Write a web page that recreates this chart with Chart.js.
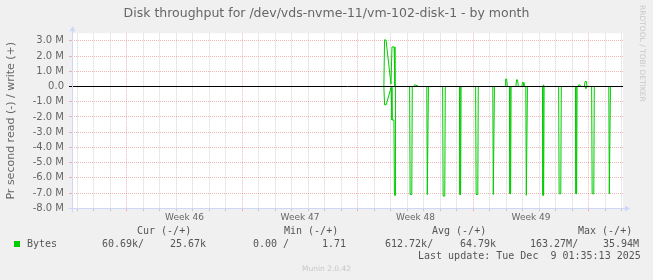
<!DOCTYPE html>
<html>
<head>
<meta charset="utf-8">
<script src="https://cdn.jsdelivr.net/npm/chart.js@4.4.1/dist/chart.umd.min.js"></script>
<style>
	body { margin: 0; background: #f0f0f0; }
	#wrap { position: relative; width: 653px; height: 280px; overflow: hidden; font-family: "DejaVu Sans", sans-serif; color: #666; }
	#wrap canvas { position: absolute; left: 0; top: 0; }
	.t { position: absolute; white-space: pre; line-height: 1; }
	.mono { font-family: "DejaVu Sans Mono", monospace; font-size: 10px; color: #555; }
</style>
</head>
<body>
<div id="wrap">
	<canvas id="myChart" width="653" height="280"></canvas>
	<div class="t" style="left:0;width:653px;text-align:center;top:7px;font-size:12.5px;">Disk throughput for /dev/vds-nvme-11/vm-102-disk-1 - by month</div>
	<div class="t" style="left:638px;top:5px;font-size:7.5px;color:#c8c8c8;writing-mode:vertical-rl;">RRDTOOL / TOBI OETIKER</div>

	<div class="t mono" style="left:137px;top:226px;">Cur (-/+)</div>
	<div class="t mono" style="left:284px;top:226px;">Min (-/+)</div>
	<div class="t mono" style="left:432px;top:226px;">Avg (-/+)</div>
	<div class="t mono" style="left:578px;top:226px;">Max (-/+)</div>

	<div style="position:absolute;left:14px;top:241px;width:6px;height:6px;background:#00cc00;"></div>
	<div class="t mono" style="left:27px;top:239px;">Bytes</div>
	<div class="t mono" style="left:102px;top:239px;">60.69k/</div>
	<div class="t mono" style="left:170px;top:239px;">25.67k</div>
	<div class="t mono" style="left:253px;top:239px;">0.00 /</div>
	<div class="t mono" style="left:322px;top:239px;">1.71</div>
	<div class="t mono" style="left:385px;top:239px;">612.72k/</div>
	<div class="t mono" style="left:460px;top:239px;">64.79k</div>
	<div class="t mono" style="left:530px;top:239px;">163.27M/</div>
	<div class="t mono" style="left:603px;top:239px;">35.94M</div>

	<div class="t mono" style="left:418px;top:251px;">Last update: Tue Dec  9 01:35:13 2025</div>
	<div class="t" style="left:0;width:653px;text-align:center;top:265px;font-size:7.5px;color:#c8c8c8;">Munin 2.0.42</div>
</div>
<script>
// x values are days counted from the start of week 46, y values in M (10^6) per second
var weekLabels = ["Week 46", "Week 47", "Week 48", "Week 49"];

var writeDays = [15.58, 15.62, 15.71, 16.01, 16.07, 16.20, 16.25,
	17.39, 17.43, 17.53, 17.58,
	22.92, 22.96, 23.02, 23.06,
	23.58, 23.62, 23.68, 23.73,
	23.94, 23.98, 24.03, 24.07,
	25.22, 25.25, 25.30,
	27.34, 27.38, 27.46, 27.50,
	27.73, 27.77, 27.85, 27.89,
	30.03];
var writeM = [0, 3.07, 3.05, 0.15, 2.6, 2.6, 0,
	0, 0.1, 0.1, 0,
	0, 0.49, 0.49, 0,
	0, 0.44, 0.44, 0,
	0, 0.26, 0.26, 0,
	0, 0.11, 0,
	0, 0.1, 0.1, 0,
	0, 0.33, 0.33, 0,
	0];

var readDays = [15.58, 15.62, 15.72, 16.02, 16.07, 16.19, 16.22, 16.26, 16.28,
	17.14, 17.17, 17.27, 17.30,
	18.18, 18.21, 18.25, 18.28,
	19.14, 19.17, 19.27, 19.30,
	20.16, 20.19, 20.23, 20.26,
	21.14, 21.17, 21.27, 21.30,
	22.18, 22.21, 22.25, 22.28,
	23.19, 23.22, 23.26, 23.29,
	24.18, 24.21, 24.25, 24.28,
	25.19, 25.22, 25.26, 25.29,
	26.17, 26.20, 26.30, 26.33,
	27.19, 27.22, 27.26, 27.29,
	27.78, 27.82, 27.86,
	28.17, 28.20, 28.30, 28.33,
	29.21, 29.24, 29.28, 29.31,
	30.03];
var readM = [0, -1.2, -1.2, -0.05, -2.2, -2.2, -7.15, -7.15, 0,
	0, -7.1, -7.1, 0,
	0, -7.1, -7.1, 0,
	0, -7.2, -7.2, 0,
	0, -7.1, -7.1, 0,
	0, -7.1, -7.1, 0,
	0, -7.1, -7.1, 0,
	0, -7.05, -7.05, 0,
	0, -7.15, -7.15, 0,
	0, -7.15, -7.15, 0,
	0, -7.05, -7.05, 0,
	0, -7.05, -7.05, 0,
	0, -0.13, 0,
	0, -7.05, -7.05, 0,
	0, -7.05, -7.05, 0,
	0];

var xMin = -3.32, xMax = 30.07;
var yMin = -8, yMax = 3.5;

var MINOR = "rgba(128,128,128,0.35)";
var MAJOR = "rgba(226,93,93,0.45)";
var AXIS = "#cfd6f8";
var NONE = "rgba(0,0,0,0)";

function toPoints(xs, ys) {
	return xs.map(function (x, i) {
		return { x: x, y: ys[i] };
	});
}
function isWhole(v) {
	return Math.abs(v - Math.round(v)) < 1e-6;
}
function weekIndex(v) {
	for (var i = 0; i < weekLabels.length; i++) {
		if (Math.abs(v - (3.5 + 7 * i)) < 1e-6) return i;
	}
	return -1;
}
function xGridColor(ctx) {
	if (!ctx.tick) return NONE;
	var v = ctx.tick.value;
	if (!isWhole(v)) return NONE;
	return Math.round(v) % 7 === 0 ? MAJOR : MINOR;
}
function yGridColor(ctx) {
	if (!ctx.tick) return NONE;
	var v = ctx.tick.value;
	if (Math.abs(v) < 1e-6 || Math.abs(v - yMin) < 1e-6) return NONE;
	return isWhole(v) ? MAJOR : MINOR;
}

var canvasBack = {
	id: "canvasBack",
	beforeDraw: function (chart) {
		var a = chart.chartArea, c = chart.ctx;
		c.save();
		c.fillStyle = "#ffffff";
		c.fillRect(a.left, a.top, a.right - a.left, a.bottom - a.top);
		c.restore();
	},
	afterDraw: function (chart) {
		var a = chart.chartArea, c = chart.ctx;
		var l = Math.round(a.left) + 0.5, b = Math.round(a.bottom) + 0.5;
		c.save();
		c.strokeStyle = AXIS;
		c.fillStyle = AXIS;
		c.lineWidth = 1;
		c.beginPath();
		c.moveTo(l, b + 4);
		c.lineTo(l, a.top - 3);
		c.moveTo(l - 4, b);
		c.lineTo(a.right + 4, b);
		c.stroke();
		c.beginPath();
		c.moveTo(l - 3, a.top - 2);
		c.lineTo(l + 3, a.top - 2);
		c.lineTo(l, a.top - 7);
		c.closePath();
		c.fill();
		c.beginPath();
		c.moveTo(a.right + 2, b - 3);
		c.lineTo(a.right + 2, b + 3);
		c.lineTo(a.right + 7, b);
		c.closePath();
		c.fill();
		c.restore();
	},
};

Chart.defaults.font.family = "'DejaVu Sans', sans-serif";
Chart.defaults.font.size = 10;
Chart.defaults.color = "#666";

var ctx = document.getElementById("myChart").getContext("2d");
var myChart = new Chart(ctx, {
	type: "line",
	data: {
		datasets: [
			{
				label: "zero",
				data: [{ x: xMin, y: 0 }, { x: xMax, y: 0 }],
				borderColor: "#000000",
				borderWidth: 1,
			},
			{
				label: "write",
				data: toPoints(writeDays, writeM),
				borderColor: "#00cc00",
				borderWidth: 1,
			},
			{
				label: "read",
				data: toPoints(readDays, readM),
				borderColor: "#00cc00",
				borderWidth: 1,
			},
		],
	},
	options: {
		responsive: false,
		animation: false,
		events: [],
		layout: { padding: { left: 0, right: 30, top: 33.24, bottom: 0 } },
		elements: { point: { radius: 0 }, line: { tension: 0 } },
		plugins: {
			legend: { display: false },
			tooltip: { enabled: false },
		},
		scales: {
			x: {
				type: "linear",
				min: xMin,
				max: xMax,
				afterBuildTicks: function (scale) {
					var t = [];
					for (var d = Math.ceil(xMin); d <= Math.floor(xMax); d++) t.push(d);
					weekLabels.forEach(function (w, i) {
						t.push(3.5 + 7 * i);
					});
					t.sort(function (a, b) { return a - b; });
					scale.ticks = t.map(function (v) { return { value: v }; });
				},
				afterFit: function (scale) {
					scale.height = 280 - 208.24;
				},
				ticks: {
					autoSkip: false,
					maxRotation: 0,
					minRotation: 0,
					padding: 1,
					font: { size: 9 },
					callback: function (value) {
						var i = weekIndex(value);
						return i >= 0 ? weekLabels[i] : "";
					},
				},
				grid: {
					color: xGridColor,
					tickColor: xGridColor,
					tickLength: 3,
				},
				border: {
					display: false,
					dash: [1, 1],
				},
			},
			y: {
				min: yMin,
				max: yMax,
				afterFit: function (scale) {
					scale.width = 72;
				},
				title: {
					display: true,
					text: "Pr second read (-) / write (+)",
					font: { size: 11 },
					padding: { top: 5, bottom: 0 },
				},
				ticks: {
					stepSize: 0.5,
					padding: 5,
					callback: function (value) {
						if (!isWhole(value)) return "";
						if (Math.abs(value) < 1e-6) return "0.0";
						return value.toFixed(1) + " M";
					},
				},
				grid: {
					color: yGridColor,
					tickColor: function (ctx) {
						if (!ctx.tick) return NONE;
						var v = ctx.tick.value;
						if (!isWhole(v)) return NONE;
						return Math.abs(v) < 1e-6 ? "#000000" : MAJOR;
					},
					tickLength: 3,
				},
				border: {
					display: false,
					dash: [1, 1],
				},
			},
		},
	},
	plugins: [canvasBack],
});
</script>
</body>
</html>
